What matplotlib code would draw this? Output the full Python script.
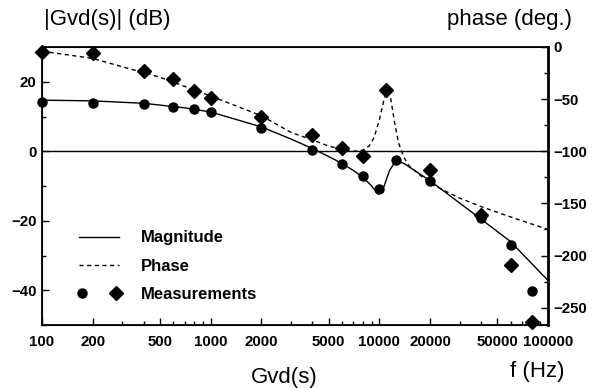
import numpy as np
import matplotlib
matplotlib.use("Agg")
import matplotlib.pyplot as plt
from matplotlib.legend_handler import HandlerTuple
from matplotlib.ticker import FixedLocator, NullFormatter, MultipleLocator

plt.rcParams['font.family'] = ['Liberation Sans', 'DejaVu Sans']

# measured points
f_meas = [100, 200, 400, 600, 800, 1000, 2000, 4000, 6000, 8000, 10000, 12500, 20000, 40000, 60000, 80000]
mag_meas = [14.1, 13.8, 13.7, 12.7, 12.1, 11.2, 6.6, 0.3, -3.7, -7.2, -11.0, -2.6, -8.6, -19.3, -27.1, -40.3]
f_phase_meas = [100, 200, 400, 600, 800, 1000, 2000, 4000, 6000, 8000, 11000, 20000, 40000, 60000, 80000]
phase_meas = [-5, -6, -23, -31, -42, -49, -67, -84, -97, -105, -41, -118, -161, -209, -264]

# model curves
f_mag = [100, 200, 400, 700, 1000, 2000, 3000, 4000, 5000, 6000, 7000, 8000, 9000, 9800,
         10500, 11500, 12500, 14000, 20000, 40000, 60000, 100000]
mag_line = [14.7, 14.5, 13.8, 12.5, 11.3, 7.0, 3.5, 0.8, -1.5, -3.5, -5.5, -7.5, -10.0, -12.3,
            -11.0, -5.5, -2.8, -3.5, -8.5, -19.5, -26.0, -37.2]
f_ph = [100, 200, 500, 1000, 2000, 3000, 4000, 5000, 6000, 7000, 8000, 8700, 9300, 10000,
        10600, 11100, 11700, 12300, 13000, 14000, 15000, 20000, 30000, 40000, 60000, 100000]
phase_line = [-4, -11, -29, -47, -66, -82, -89, -95, -98, -100, -99, -95, -87, -70,
              -52, -42, -50, -72, -92, -106, -114, -131, -145, -153, -163, -175]

xticks = [100, 200, 500, 1000, 2000, 5000, 10000, 20000, 50000, 100000]

fig = plt.figure(figsize=(5.95, 3.88), dpi=100)
ax = fig.add_axes([42/595, 1-325/388, 506/595, 278/388])
ax2 = ax.twinx()

ax.plot(f_mag, mag_line, color='black', lw=1.0)
ax.plot(f_meas, mag_meas, 'o', color='black', ms=6.5, clip_on=False, zorder=5)
ax.axhline(0, color='black', lw=1.0)
ax2.plot(f_ph, phase_line, color='black', lw=1.0, ls=(0, (3, 2.5)))
ax2.plot(f_phase_meas, phase_meas, 'D', color='black', ms=7.5, clip_on=False, zorder=5)

ax.set_xscale('log')
ax.set_xlim(100, 100000)
ax.set_ylim(-50, 30)
ax2.set_ylim(-800/3, 0)
ax.xaxis.set_major_locator(FixedLocator(xticks))
ax.set_xticklabels([str(t) for t in xticks])
ax.xaxis.set_minor_formatter(NullFormatter())
ax.set_yticks([-40, -20, 0, 20])
ax.yaxis.set_minor_locator(MultipleLocator(10))
ax2.set_yticks([-250, -200, -150, -100, -50, 0])
ax2.yaxis.set_minor_locator(MultipleLocator(25))

for a in (ax, ax2):
    a.tick_params(which='both', direction='in', labelsize=10.8, width=1.0)
    a.tick_params(which='major', length=5)
    a.tick_params(which='minor', length=3)
    for lab in a.get_xticklabels() + a.get_yticklabels():
        lab.set_fontweight('bold')
ax.tick_params(axis='x', pad=7)
ax.tick_params(axis='y', pad=4)
ax2.tick_params(axis='y', pad=4)
for s in ('left', 'bottom', 'top'):
    ax.spines[s].set_linewidth(1.3)
ax2.spines['right'].set_linewidth(2.0)

fig.text(44/595, 1-20/388, '|Gvd(s)| (dB)', fontsize=16, va='center', ha='left')
fig.text(572/595, 1-20/388, 'phase (deg.)', fontsize=16, va='center', ha='right')
fig.text(284/595, 1-378/388, 'Gvd(s)', fontsize=16, va='center', ha='center')
fig.text(564/595, 1-371/388, 'f (Hz)', fontsize=16, va='center', ha='right')

h1, = ax.plot([], [], color='black', lw=1.0)
h2, = ax.plot([], [], color='black', lw=1.0, ls=(0, (3, 2.5)))
c, = ax.plot([], [], 'o', color='black', ms=6.5)
d, = ax.plot([], [], 'D', color='black', ms=7.5)
leg = ax.legend([h1, h2, (c, d)], ['Magnitude', 'Phase', 'Measurements'],
                handler_map={tuple: HandlerTuple(ndivide=None, pad=1.68)},
                loc='upper left', bbox_to_anchor=(71/595, 1-222/388),
                bbox_transform=fig.transFigure, frameon=False, borderpad=0,
                handlelength=2.4, handletextpad=1.3, labelspacing=0.8,
                prop={'size': 12, 'weight': 'bold'})

fig.savefig('out.png', dpi=100)
